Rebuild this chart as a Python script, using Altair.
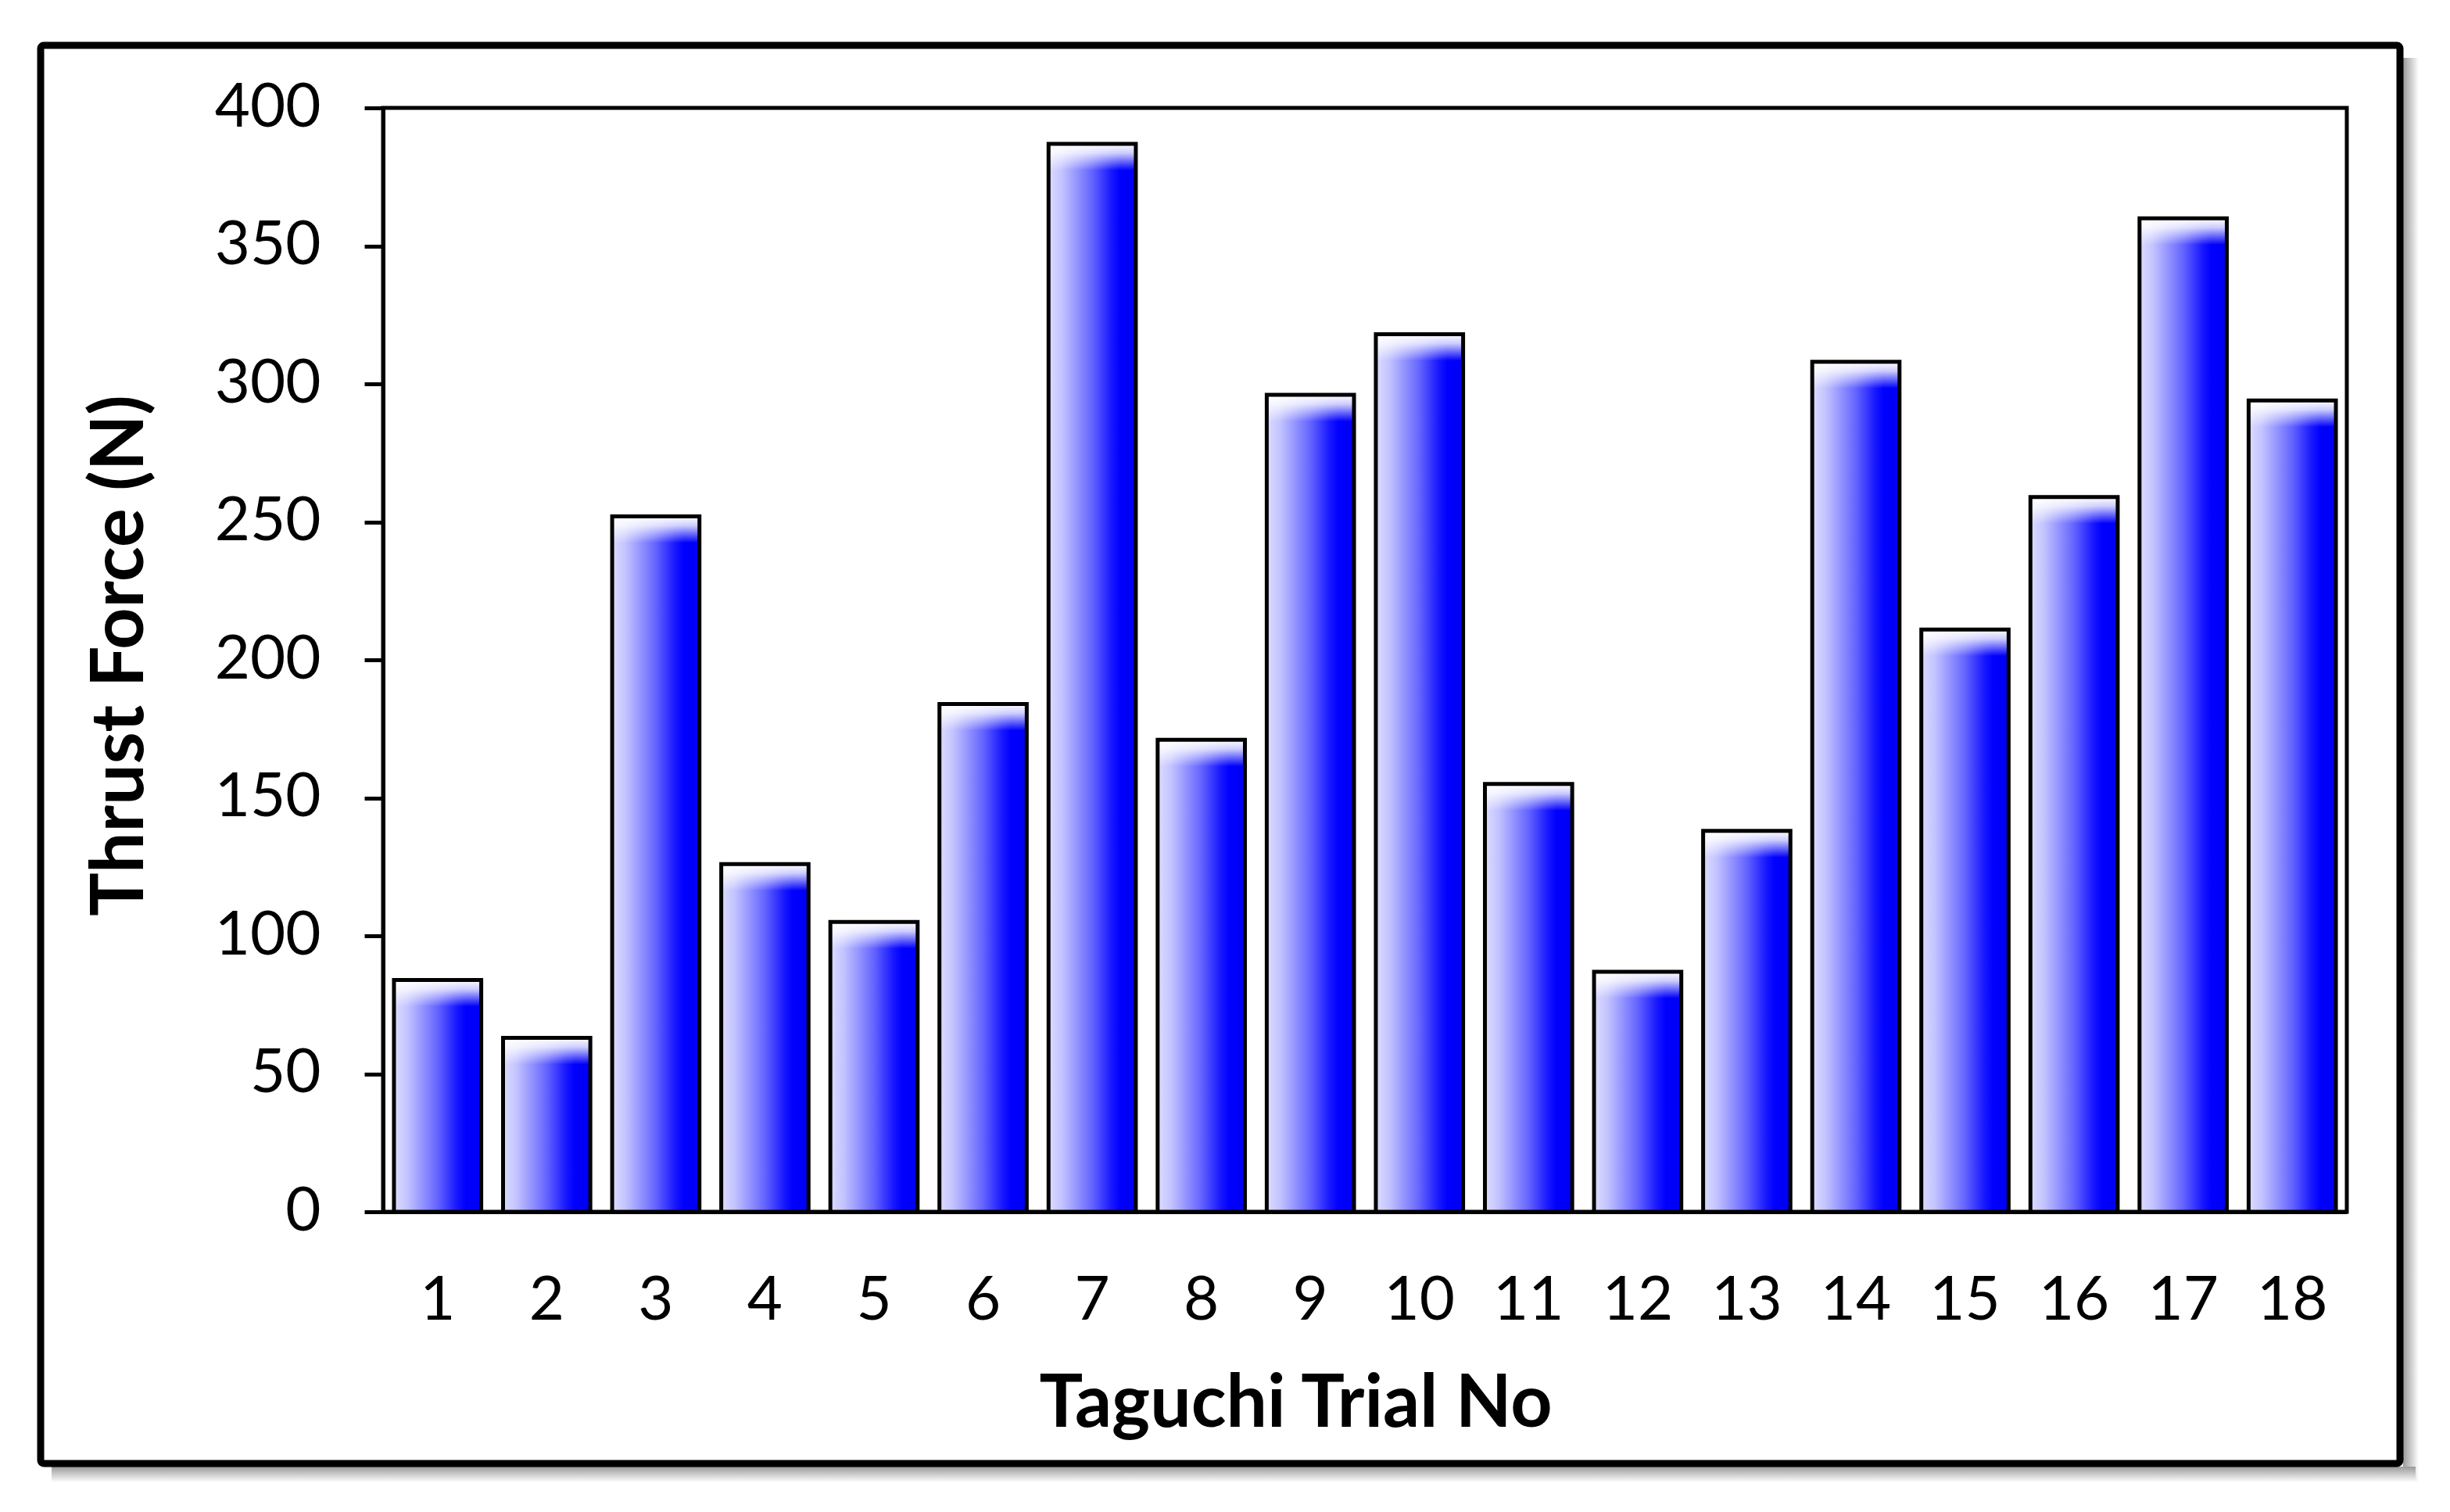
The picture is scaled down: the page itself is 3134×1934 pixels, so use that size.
import altair as alt
import pandas as pd

# ---- data ----
trials = [str(i) for i in range(1, 19)]
thrust_force = [84, 63, 252, 126, 105, 184, 387, 171, 296, 318, 155, 87, 138, 308, 211, 259, 360, 294]
y_ticks = [0, 50, 100, 150, 200, 250, 300, 350, 400]

df = pd.DataFrame({"trial": trials, "force": thrust_force})
one = pd.DataFrame({"k": [0]})

W, H = 2512, 1412
FONT = "Lato"

bar_grad = alt.Gradient(
    gradient="linear", x1=0, y1=0, x2=1, y2=0,
    stops=[
        alt.GradientStop(offset=0.0, color="#dcdcff"),
        alt.GradientStop(offset=0.15, color="#c4c4ff"),
        alt.GradientStop(offset=0.5, color="#6464ff"),
        alt.GradientStop(offset=0.72, color="#1818ff"),
        alt.GradientStop(offset=0.82, color="#0000ff"),
        alt.GradientStop(offset=1.0, color="#0000f0"),
    ],
)
bevel_grad = alt.Gradient(
    gradient="linear", x1=0, y1=0, x2=0, y2=1,
    stops=[
        alt.GradientStop(offset=0.0, color="rgba(255,255,255,1)"),
        alt.GradientStop(offset=0.35, color="rgba(255,255,255,0.8)"),
        alt.GradientStop(offset=1.0, color="rgba(255,255,255,0)"),
    ],
)
shadow_h = alt.Gradient(
    gradient="linear", x1=0, y1=0, x2=1, y2=0,
    stops=[alt.GradientStop(offset=0, color="#9a9a9a"), alt.GradientStop(offset=1, color="#ffffff")],
)
shadow_v = alt.Gradient(
    gradient="linear", x1=0, y1=0, x2=0, y2=1,
    stops=[alt.GradientStop(offset=0, color="#9a9a9a"), alt.GradientStop(offset=1, color="#ffffff")],
)

x_enc = alt.X(
    "trial:O", sort=trials,
    scale=alt.Scale(paddingInner=0.2, paddingOuter=0.1),
    axis=alt.Axis(
        title="Taguchi Trial No", labelAngle=0, ticks=False, tickSize=0,
        labelFont=FONT, labelFontSize=78, labelColor="black",
        labelBaseline="alphabetic", labelPadding=137,
        domainColor="black", domainWidth=5,
        titleFont=FONT, titleFontSize=93, titleFontWeight="bold", titleColor="black",
        titleX=1167, titleY=274, titleBaseline="alphabetic", titleAlign="center",
        grid=False,
    ),
)
y_enc = alt.Y(
    "force:Q",
    scale=alt.Scale(domain=[0, 400], nice=False),
    axis=alt.Axis(
        title="Thrust Force (N)", values=y_ticks,
        labelFont=FONT, labelFontSize=78, labelColor="black", labelPadding=56,
        tickSize=24, tickWidth=5, tickColor="black",
        domainColor="black", domainWidth=5,
        titleFont=FONT, titleFontSize=93, titleFontWeight="bold", titleColor="black",
        titleAngle=-90, titleX=-308, titleY=700, titleBaseline="alphabetic", titleAlign="center",
        grid=False,
    ),
)

shadow_right = alt.Chart(one).mark_rect(fill=shadow_h).encode(
    x=alt.value(2584), x2=alt.value(2604), y=alt.value(-64), y2=alt.value(1756)
)
shadow_bottom = alt.Chart(one).mark_rect(fill=shadow_v).encode(
    x=alt.value(-424), x2=alt.value(2600), y=alt.value(1738), y2=alt.value(1758)
)
frame = alt.Chart(one).mark_rect(
    fill="white", fillOpacity=0, stroke="black", strokeWidth=9, cornerRadius=4
).encode(x=alt.value(-438), x2=alt.value(2580), y=alt.value(-80), y2=alt.value(1734))

bars = alt.Chart(df).mark_bar(fill=bar_grad, strokeWidth=0).encode(x=x_enc, y=y_enc)
bevel = alt.Chart(df).mark_bar(fill=bevel_grad, strokeWidth=0, y2Offset=34).encode(
    x=x_enc, y=y_enc, y2=alt.Y2("force:Q")
)
outline = alt.Chart(df).mark_bar(fillOpacity=0, stroke="black", strokeWidth=5).encode(x=x_enc, y=y_enc)

chart = alt.layer(shadow_right, shadow_bottom, frame, bars, bevel, outline).properties(
    width=W, height=H,
    autosize=alt.AutoSizeParams(type="none"),
    padding={"left": 482, "top": 130, "right": 118, "bottom": 368},
    background="white",
).configure_view(stroke="black", strokeWidth=5, fill="white")

chart.save("out.html", embed_options={"renderer": "svg", "actions": False})
